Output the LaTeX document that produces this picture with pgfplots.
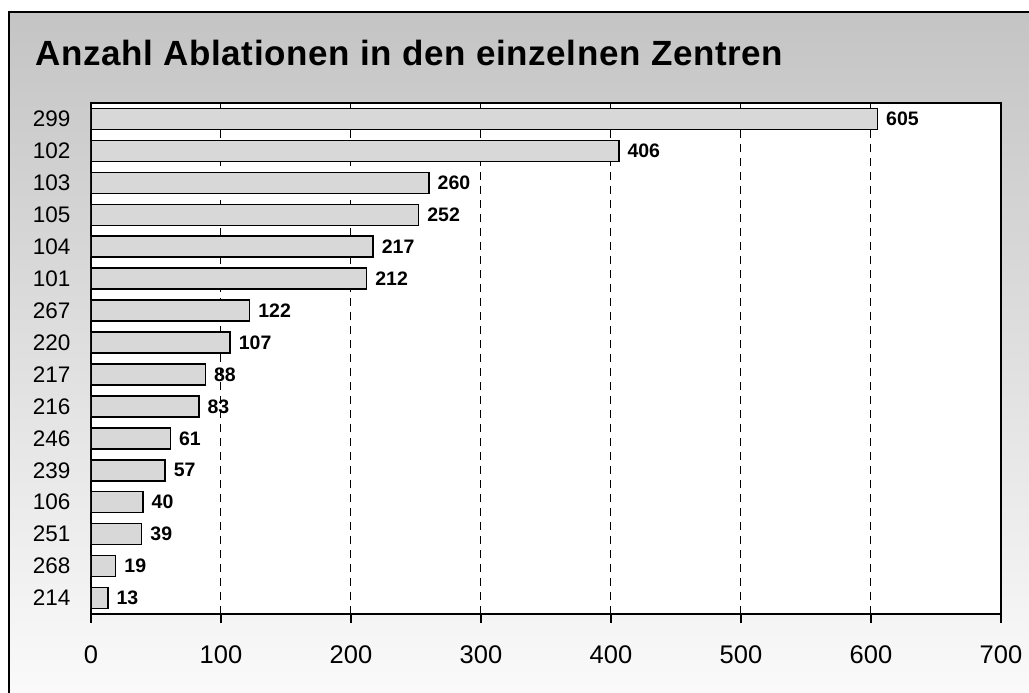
\documentclass[border=0pt]{standalone}
\usepackage{pgfplots}
\pgfplotsset{compat=1.18}
\usepackage{fontspec}
\setmainfont{Liberation Sans}
\newfontfamily\titlefont[LetterSpace=1.8]{Liberation Sans}
\definecolor{bgtop}{RGB}{196,196,196}
\definecolor{bgbot}{RGB}{251,251,251}
\definecolor{barfill}{RGB}{216,216,216}
\begin{document}
\begin{tikzpicture}[x=1pt,y=1pt]
\shade[top color=bgtop, bottom color=bgbot] (9,-10) rectangle (1040,681);
\draw[line width=1.5pt] (9,-10) -- (9,681) -- (1040,681);
\node[anchor=base west, inner sep=0pt, font=\titlefont\fontsize{35}{40}\selectfont\bfseries] at (35,627) {Anzahl Ablationen in den einzelnen Zentren};
\begin{axis}[
  at={(91pt,79pt)}, anchor=south west, scale only axis,
  width=910pt, height=511pt,
  xbar, bar width=21pt,
  xmin=0, xmax=700, ymin=-0.5, ymax=15.5,
  xtick={0,100,...,700},
  ytick={0,...,15},
  yticklabels={214,268,251,106,239,246,216,217,220,267,101,104,105,103,102,299},
  /pgf/number format/assume math mode=true,
  axis background/.style={fill=white},
  axis line style={line width=1.5pt},
  xmajorgrids,
  major grid style={black, line width=1pt, dash pattern=on 8pt off 6pt},
  tick align=outside, xtick pos=bottom,
  major tick length=9pt,
  x tick style={black, line width=1.2pt},
  y tick style={draw=none},
  x tick label style={font=\fontsize{25.5}{30}\selectfont, yshift=-19pt},
  y tick label style={font=\fontsize{22.5}{26}\selectfont, xshift=-8pt},
  nodes near coords,
  nodes near coords style={anchor=west, font=\fontsize{19.5}{22}\selectfont\bfseries, inner sep=0pt, xshift=8pt},
]
\addplot[fill=barfill, draw=black, line width=1.5pt] coordinates {
(13,0) (19,1) (39,2) (40,3) (57,4) (61,5) (83,6) (88,7) (107,8) (122,9) (212,10) (217,11) (252,12) (260,13) (406,14) (605,15)
};
\end{axis}
\pgfresetboundingbox
\path[use as bounding box] (0,0) rectangle (1029,693);
\end{tikzpicture}
\end{document}
